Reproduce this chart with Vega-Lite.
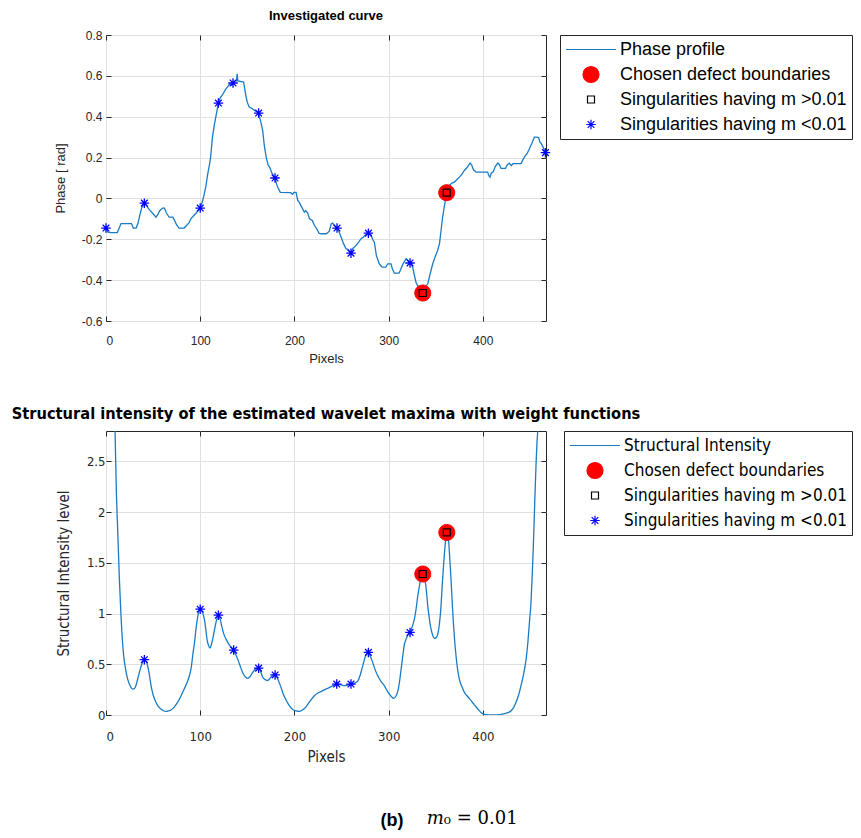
{
  "$schema": "https://vega.github.io/schema/vega-lite/v6.json",
  "background": "white",
  "padding": {"left": 11, "top": 9, "right": 0, "bottom": 5},
  "spacing": 39,
  "datasets": {
    "phase": [
      {"pixel": 0, "phase": -0.145}, {"pixel": 2, "phase": -0.165}, {"pixel": 5, "phase": -0.167}, {"pixel": 12, "phase": -0.167},
      {"pixel": 14, "phase": -0.145}, {"pixel": 16, "phase": -0.123}, {"pixel": 27, "phase": -0.123}, {"pixel": 29, "phase": -0.145},
      {"pixel": 32, "phase": -0.145}, {"pixel": 34, "phase": -0.12}, {"pixel": 36, "phase": -0.08}, {"pixel": 38, "phase": -0.045},
      {"pixel": 40.7, "phase": -0.023}, {"pixel": 43, "phase": -0.035}, {"pixel": 46, "phase": -0.055}, {"pixel": 50, "phase": -0.075},
      {"pixel": 53, "phase": -0.092}, {"pixel": 55, "phase": -0.08}, {"pixel": 57, "phase": -0.06}, {"pixel": 60, "phase": -0.047},
      {"pixel": 62, "phase": -0.047}, {"pixel": 64, "phase": -0.07}, {"pixel": 67, "phase": -0.092}, {"pixel": 71, "phase": -0.092},
      {"pixel": 73, "phase": -0.11}, {"pixel": 75, "phase": -0.13}, {"pixel": 77.5, "phase": -0.145}, {"pixel": 83, "phase": -0.145},
      {"pixel": 85, "phase": -0.135}, {"pixel": 88, "phase": -0.12}, {"pixel": 90, "phase": -0.1}, {"pixel": 93, "phase": -0.085},
      {"pixel": 96, "phase": -0.07}, {"pixel": 100, "phase": -0.047}, {"pixel": 102, "phase": -0.02}, {"pixel": 104, "phase": 0.015},
      {"pixel": 106, "phase": 0.06}, {"pixel": 108, "phase": 0.12}, {"pixel": 110, "phase": 0.17}, {"pixel": 111, "phase": 0.2},
      {"pixel": 113, "phase": 0.3}, {"pixel": 115, "phase": 0.36}, {"pixel": 117, "phase": 0.41}, {"pixel": 119.3, "phase": 0.467},
      {"pixel": 121, "phase": 0.49}, {"pixel": 124, "phase": 0.51}, {"pixel": 127, "phase": 0.535}, {"pixel": 129, "phase": 0.545},
      {"pixel": 131, "phase": 0.56}, {"pixel": 133, "phase": 0.555}, {"pixel": 134.8, "phase": 0.565}, {"pixel": 137, "phase": 0.575},
      {"pixel": 138.5, "phase": 0.575}, {"pixel": 139.2, "phase": 0.61}, {"pixel": 140, "phase": 0.575}, {"pixel": 146, "phase": 0.57},
      {"pixel": 148.6, "phase": 0.5}, {"pixel": 150, "phase": 0.47}, {"pixel": 152, "phase": 0.447}, {"pixel": 155, "phase": 0.44},
      {"pixel": 158, "phase": 0.43}, {"pixel": 160, "phase": 0.425}, {"pixel": 162, "phase": 0.418}, {"pixel": 164, "phase": 0.38},
      {"pixel": 166.3, "phase": 0.333}, {"pixel": 168, "phase": 0.26}, {"pixel": 170, "phase": 0.202}, {"pixel": 172, "phase": 0.165},
      {"pixel": 174, "phase": 0.15}, {"pixel": 176, "phase": 0.125}, {"pixel": 179.4, "phase": 0.1}, {"pixel": 181, "phase": 0.07},
      {"pixel": 182.3, "phase": 0.055}, {"pixel": 185, "phase": 0.03}, {"pixel": 196, "phase": 0.028}, {"pixel": 198, "phase": 0.02},
      {"pixel": 199.5, "phase": 0.03}, {"pixel": 201.7, "phase": 0.03}, {"pixel": 203.5, "phase": -0.01}, {"pixel": 205, "phase": -0.018},
      {"pixel": 208, "phase": -0.045}, {"pixel": 210.5, "phase": -0.067}, {"pixel": 212, "phase": -0.06}, {"pixel": 214, "phase": -0.07},
      {"pixel": 216, "phase": -0.1}, {"pixel": 219, "phase": -0.108}, {"pixel": 221, "phase": -0.13}, {"pixel": 224.7, "phase": -0.157},
      {"pixel": 226, "phase": -0.17}, {"pixel": 228.2, "phase": -0.173}, {"pixel": 234, "phase": -0.173}, {"pixel": 237, "phase": -0.16},
      {"pixel": 239, "phase": -0.125}, {"pixel": 240.6, "phase": -0.121}, {"pixel": 242, "phase": -0.13}, {"pixel": 245.2, "phase": -0.145},
      {"pixel": 247, "phase": -0.16}, {"pixel": 249.5, "phase": -0.189}, {"pixel": 252, "phase": -0.22}, {"pixel": 254.8, "phase": -0.246},
      {"pixel": 257, "phase": -0.25}, {"pixel": 260, "phase": -0.268}, {"pixel": 262, "phase": -0.245}, {"pixel": 265.4, "phase": -0.23},
      {"pixel": 268, "phase": -0.215}, {"pixel": 270.7, "phase": -0.197}, {"pixel": 273, "phase": -0.19}, {"pixel": 276, "phase": -0.175},
      {"pixel": 278.5, "phase": -0.17}, {"pixel": 281, "phase": -0.175}, {"pixel": 283, "phase": -0.2}, {"pixel": 284.8, "phase": -0.214},
      {"pixel": 287, "phase": -0.28}, {"pixel": 290, "phase": -0.32}, {"pixel": 293, "phase": -0.336}, {"pixel": 297, "phase": -0.336},
      {"pixel": 299, "phase": -0.32}, {"pixel": 302.5, "phase": -0.32}, {"pixel": 304, "phase": -0.345}, {"pixel": 306, "phase": -0.366},
      {"pixel": 311, "phase": -0.366}, {"pixel": 313, "phase": -0.345}, {"pixel": 315, "phase": -0.323}, {"pixel": 318.5, "phase": -0.295},
      {"pixel": 320, "phase": -0.3}, {"pixel": 322.7, "phase": -0.316}, {"pixel": 325.5, "phase": -0.336}, {"pixel": 327, "phase": -0.37},
      {"pixel": 329, "phase": -0.41}, {"pixel": 331, "phase": -0.43}, {"pixel": 334, "phase": -0.43}, {"pixel": 336.2, "phase": -0.463},
      {"pixel": 338, "phase": -0.44}, {"pixel": 341.5, "phase": -0.418}, {"pixel": 344, "phase": -0.37}, {"pixel": 346.8, "phase": -0.32},
      {"pixel": 349, "phase": -0.29}, {"pixel": 352, "phase": -0.255}, {"pixel": 354, "phase": -0.22}, {"pixel": 355.6, "phase": -0.157},
      {"pixel": 357, "phase": -0.1}, {"pixel": 359, "phase": -0.042}, {"pixel": 360.5, "phase": 0}, {"pixel": 361.6, "phase": 0.028},
      {"pixel": 363, "phase": 0.06}, {"pixel": 364.5, "phase": 0.064}, {"pixel": 367, "phase": 0.075}, {"pixel": 369.8, "phase": 0.08},
      {"pixel": 372, "phase": 0.09}, {"pixel": 375, "phase": 0.104}, {"pixel": 378, "phase": 0.12}, {"pixel": 380.4, "phase": 0.137},
      {"pixel": 383, "phase": 0.15}, {"pixel": 386.4, "phase": 0.173}, {"pixel": 388, "phase": 0.165}, {"pixel": 390, "phase": 0.14},
      {"pixel": 392.8, "phase": 0.129}, {"pixel": 405, "phase": 0.129}, {"pixel": 406.5, "phase": 0.11}, {"pixel": 407.6, "phase": 0.104},
      {"pixel": 409, "phase": 0.125}, {"pixel": 411, "phase": 0.13}, {"pixel": 413, "phase": 0.155}, {"pixel": 415.8, "phase": 0.173},
      {"pixel": 417.5, "phase": 0.165}, {"pixel": 419.3, "phase": 0.147}, {"pixel": 424, "phase": 0.147}, {"pixel": 426, "phase": 0.165},
      {"pixel": 428, "phase": 0.173}, {"pixel": 430, "phase": 0.16}, {"pixel": 432, "phase": 0.17}, {"pixel": 440.5, "phase": 0.17},
      {"pixel": 442, "phase": 0.185}, {"pixel": 444, "phase": 0.202}, {"pixel": 447, "phase": 0.22}, {"pixel": 449.4, "phase": 0.243},
      {"pixel": 452, "phase": 0.27}, {"pixel": 454.7, "phase": 0.3}, {"pixel": 457, "phase": 0.3}, {"pixel": 459.3, "phase": 0.297},
      {"pixel": 460.5, "phase": 0.275}, {"pixel": 461.8, "phase": 0.27}, {"pixel": 464, "phase": 0.25}, {"pixel": 466.4, "phase": 0.224}
    ],
    "phaseMarks": [
      {"pixel": 0, "phase": -0.145, "kind": "weak"},
      {"pixel": 40.7, "phase": -0.023, "kind": "weak"},
      {"pixel": 100, "phase": -0.047, "kind": "weak"},
      {"pixel": 119.3, "phase": 0.467, "kind": "weak"},
      {"pixel": 134.8, "phase": 0.565, "kind": "weak"},
      {"pixel": 162, "phase": 0.418, "kind": "weak"},
      {"pixel": 179.4, "phase": 0.1, "kind": "weak"},
      {"pixel": 245.2, "phase": -0.145, "kind": "weak"},
      {"pixel": 260, "phase": -0.268, "kind": "weak"},
      {"pixel": 278.5, "phase": -0.17, "kind": "weak"},
      {"pixel": 322.7, "phase": -0.316, "kind": "weak"},
      {"pixel": 466.4, "phase": 0.224, "kind": "weak"},
      {"pixel": 336.2, "phase": -0.463, "kind": "strong"},
      {"pixel": 361.6, "phase": 0.028, "kind": "strong"}
    ],
    "intensity": [
      {"pixel": 8.5, "level": 3.2}, {"pixel": 9.6, "level": 2.81}, {"pixel": 11, "level": 2.2}, {"pixel": 12.4, "level": 1.83},
      {"pixel": 14.2, "level": 1.34}, {"pixel": 15.9, "level": 0.98}, {"pixel": 17.3, "level": 0.75}, {"pixel": 18.8, "level": 0.58},
      {"pixel": 21, "level": 0.44}, {"pixel": 23, "level": 0.354}, {"pixel": 25.5, "level": 0.29}, {"pixel": 28.3, "level": 0.256},
      {"pixel": 30, "level": 0.26}, {"pixel": 31.8, "level": 0.29}, {"pixel": 33.5, "level": 0.35}, {"pixel": 35.4, "level": 0.42},
      {"pixel": 38, "level": 0.5}, {"pixel": 40.7, "level": 0.545}, {"pixel": 42.5, "level": 0.53}, {"pixel": 44.2, "level": 0.485},
      {"pixel": 46, "level": 0.4}, {"pixel": 47.8, "level": 0.29}, {"pixel": 50, "level": 0.2}, {"pixel": 53, "level": 0.125},
      {"pixel": 55.5, "level": 0.085}, {"pixel": 58.4, "level": 0.059}, {"pixel": 61, "level": 0.042}, {"pixel": 63.7, "level": 0.036},
      {"pixel": 66, "level": 0.04}, {"pixel": 69, "level": 0.049}, {"pixel": 72.5, "level": 0.08}, {"pixel": 76, "level": 0.125},
      {"pixel": 79.5, "level": 0.185}, {"pixel": 83, "level": 0.256}, {"pixel": 86, "level": 0.32}, {"pixel": 88.5, "level": 0.387},
      {"pixel": 90.5, "level": 0.47}, {"pixel": 92, "level": 0.584}, {"pixel": 94, "level": 0.72}, {"pixel": 95.5, "level": 0.846},
      {"pixel": 98, "level": 1.0}, {"pixel": 100, "level": 1.043}, {"pixel": 102, "level": 1.02}, {"pixel": 104.4, "level": 0.945},
      {"pixel": 106, "level": 0.84}, {"pixel": 107.2, "level": 0.748}, {"pixel": 109, "level": 0.68}, {"pixel": 110.4, "level": 0.66},
      {"pixel": 112, "level": 0.7}, {"pixel": 113.9, "level": 0.78}, {"pixel": 116, "level": 0.88}, {"pixel": 118, "level": 0.96},
      {"pixel": 119.3, "level": 0.984}, {"pixel": 121, "level": 0.95}, {"pixel": 122.8, "level": 0.879}, {"pixel": 125, "level": 0.8},
      {"pixel": 127.4, "level": 0.748}, {"pixel": 131, "level": 0.69}, {"pixel": 135.5, "level": 0.64}, {"pixel": 137.5, "level": 0.6},
      {"pixel": 139.8, "level": 0.551}, {"pixel": 142.5, "level": 0.48}, {"pixel": 145, "level": 0.42}, {"pixel": 147.5, "level": 0.38},
      {"pixel": 150.4, "level": 0.361}, {"pixel": 153, "level": 0.38}, {"pixel": 155.7, "level": 0.42}, {"pixel": 159, "level": 0.455},
      {"pixel": 162, "level": 0.462}, {"pixel": 164, "level": 0.43}, {"pixel": 166, "level": 0.38}, {"pixel": 168, "level": 0.354},
      {"pixel": 171.6, "level": 0.34}, {"pixel": 174, "level": 0.36}, {"pixel": 177, "level": 0.39}, {"pixel": 179.5, "level": 0.395},
      {"pixel": 182, "level": 0.36}, {"pixel": 185.8, "level": 0.27}, {"pixel": 188, "level": 0.21}, {"pixel": 191, "level": 0.15},
      {"pixel": 194, "level": 0.1}, {"pixel": 198.2, "level": 0.055}, {"pixel": 202, "level": 0.04}, {"pixel": 205.2, "level": 0.035},
      {"pixel": 208.5, "level": 0.05}, {"pixel": 212.3, "level": 0.08}, {"pixel": 216, "level": 0.13}, {"pixel": 221.2, "level": 0.19},
      {"pixel": 224.5, "level": 0.215}, {"pixel": 228.2, "level": 0.23}, {"pixel": 232, "level": 0.25}, {"pixel": 235.3, "level": 0.263},
      {"pixel": 240, "level": 0.285}, {"pixel": 244.9, "level": 0.305}, {"pixel": 249, "level": 0.3}, {"pixel": 253, "level": 0.29},
      {"pixel": 256.5, "level": 0.295}, {"pixel": 260, "level": 0.305}, {"pixel": 264, "level": 0.315}, {"pixel": 267.2, "level": 0.335},
      {"pixel": 270, "level": 0.4}, {"pixel": 272.5, "level": 0.485}, {"pixel": 275, "level": 0.57}, {"pixel": 278.5, "level": 0.617},
      {"pixel": 281, "level": 0.57}, {"pixel": 283, "level": 0.519}, {"pixel": 285.5, "level": 0.45}, {"pixel": 288.4, "level": 0.387},
      {"pixel": 292, "level": 0.33}, {"pixel": 295.4, "level": 0.29}, {"pixel": 298, "level": 0.245}, {"pixel": 300.7, "level": 0.207},
      {"pixel": 303, "level": 0.18}, {"pixel": 305.4, "level": 0.164}, {"pixel": 307.9, "level": 0.19}, {"pixel": 309.6, "level": 0.23},
      {"pixel": 311.4, "level": 0.32}, {"pixel": 313.2, "level": 0.45}, {"pixel": 315, "level": 0.584}, {"pixel": 316.8, "level": 0.7},
      {"pixel": 318.5, "level": 0.748}, {"pixel": 320.5, "level": 0.79}, {"pixel": 322.7, "level": 0.814}, {"pixel": 325, "level": 0.87},
      {"pixel": 327.3, "level": 0.945}, {"pixel": 329.2, "level": 1.05}, {"pixel": 330.9, "level": 1.174}, {"pixel": 333.3, "level": 1.306},
      {"pixel": 335, "level": 1.38}, {"pixel": 336.2, "level": 1.39}, {"pixel": 337.5, "level": 1.37}, {"pixel": 339, "level": 1.306},
      {"pixel": 340.3, "level": 1.2}, {"pixel": 341.5, "level": 1.076}, {"pixel": 343.2, "level": 0.95}, {"pixel": 345, "level": 0.846},
      {"pixel": 346.8, "level": 0.785}, {"pixel": 348.5, "level": 0.755}, {"pixel": 350.3, "level": 0.76}, {"pixel": 352.1, "level": 0.797},
      {"pixel": 353.9, "level": 0.9}, {"pixel": 355.6, "level": 1.076}, {"pixel": 357, "level": 1.3}, {"pixel": 358.5, "level": 1.503},
      {"pixel": 360.2, "level": 1.7}, {"pixel": 361.7, "level": 1.8}, {"pixel": 363, "level": 1.76}, {"pixel": 363.8, "level": 1.7},
      {"pixel": 365, "level": 1.52}, {"pixel": 366.2, "level": 1.339}, {"pixel": 367.5, "level": 1.1}, {"pixel": 368.7, "level": 0.912},
      {"pixel": 370, "level": 0.74}, {"pixel": 371.5, "level": 0.584}, {"pixel": 373.2, "level": 0.45}, {"pixel": 375, "level": 0.354},
      {"pixel": 377.7, "level": 0.28}, {"pixel": 380.4, "level": 0.223}, {"pixel": 384, "level": 0.18}, {"pixel": 387.5, "level": 0.141},
      {"pixel": 391, "level": 0.1}, {"pixel": 394.6, "level": 0.059}, {"pixel": 398, "level": 0.025}, {"pixel": 401.6, "level": 0.005},
      {"pixel": 406, "level": 0}, {"pixel": 412.2, "level": 0}, {"pixel": 417, "level": 0.003}, {"pixel": 421, "level": 0.01},
      {"pixel": 425.5, "level": 0.02}, {"pixel": 430, "level": 0.042}, {"pixel": 433, "level": 0.08}, {"pixel": 435.2, "level": 0.125},
      {"pixel": 438, "level": 0.2}, {"pixel": 440.5, "level": 0.29}, {"pixel": 443.2, "level": 0.4}, {"pixel": 445.9, "level": 0.551},
      {"pixel": 447.8, "level": 0.72}, {"pixel": 449.4, "level": 0.912}, {"pixel": 451, "level": 1.1}, {"pixel": 452.2, "level": 1.339},
      {"pixel": 453.5, "level": 1.65}, {"pixel": 454.7, "level": 1.995}, {"pixel": 455.6, "level": 2.25}, {"pixel": 456.5, "level": 2.487},
      {"pixel": 457.5, "level": 2.7}, {"pixel": 458.3, "level": 2.815}, {"pixel": 459.5, "level": 3.2}
    ],
    "intensityMarks": [
      {"pixel": 40.7, "level": 0.545, "kind": "weak"},
      {"pixel": 100, "level": 1.043, "kind": "weak"},
      {"pixel": 119.3, "level": 0.984, "kind": "weak"},
      {"pixel": 135.5, "level": 0.64, "kind": "weak"},
      {"pixel": 162, "level": 0.462, "kind": "weak"},
      {"pixel": 179.5, "level": 0.395, "kind": "weak"},
      {"pixel": 244.9, "level": 0.305, "kind": "weak"},
      {"pixel": 260, "level": 0.305, "kind": "weak"},
      {"pixel": 278.5, "level": 0.617, "kind": "weak"},
      {"pixel": 322.7, "level": 0.814, "kind": "weak"},
      {"pixel": 336.2, "level": 1.39, "kind": "strong"},
      {"pixel": 361.7, "level": 1.8, "kind": "strong"}
    ]
  },
  "config": {
    "view": {"stroke": "#262626", "strokeWidth": 1},
    "axis": {
      "domain": false,
      "grid": false,
      "gridColor": "#e0e0e0",
      "gridWidth": 1,
      "tickColor": "#262626",
      "tickSize": -5,
      "labelFont": "Liberation Sans",
      "labelFontSize": 12,
      "labelColor": "#262626",
      "titleFont": "Liberation Sans",
      "titleFontSize": 13,
      "titleFontWeight": "normal",
      "titleColor": "#262626"
    },
    "legend": {
      "orient": "none",
      "padding": 5,
      "strokeColor": "#262626",
      "fillColor": "white",
      "symbolSize": 2500,
      "symbolStrokeWidth": 1.2,
      "symbolOpacity": 1,
      "clipHeight": 19,
      "rowPadding": 6,
      "labelOffset": 3,
      "labelLimit": 0,
      "labelColor": "black"
    },
    "title": {"color": "black", "fontWeight": "bold"}
  },
  "title": {
    "text": "(b)\u00a0\u00a0\u00a0\u00a0\u00a0\u00a0\u00a0\u00a0\u00a0\u00a0\u00a0\u00a0\u00a0\u00a0\u00a0\u00a0\u200b",
    "subtitle": "\u200b\u00a0\u00a0\u00a0\u00a0\u00a0\u00a0\u00a0\u00a0\u00a0\u00a0\u00a0\u00a0\u00a0\u00a0𝑚₀ = 0.01",
    "orient": "bottom",
    "anchor": "middle",
    "font": "Liberation Sans",
    "fontSize": 18,
    "fontWeight": "bold",
    "subtitleFont": "DejaVu Serif",
    "subtitleFontSize": 18,
    "subtitleColor": "black",
    "subtitlePadding": -20,
    "offset": 47
  },
  "resolve": {"scale": {"stroke": "independent", "fill": "independent", "shape": "independent"}},
  "vconcat": [
    {
      "width": 440,
      "height": 286,
      "title": {"text": "Investigated curve", "font": "Liberation Sans", "fontSize": 13, "offset": 6},
      "layer": [
        {
          "data": {"name": "phase"},
          "mark": {"type": "line", "strokeWidth": 1.3, "clip": true},
          "encoding": {
            "x": {"field": "pixel", "type": "quantitative",
                  "scale": {"domain": [0, 467], "nice": false, "zero": false},
                  "axis": {"orient": "bottom", "values": [0, 100, 200, 300, 400], "title": "Pixels", "grid": true, "labelPadding": 19, "titlePadding": 6}},
            "y": {"field": "phase", "type": "quantitative",
                  "scale": {"domain": [-0.6, 0.8], "nice": false, "zero": false},
                  "axis": {"orient": "left", "values": [-0.6, -0.4, -0.2, 0, 0.2, 0.4, 0.6, 0.8], "title": "Phase [ rad]", "grid": true, "labelPadding": 9, "titlePadding": 14,
                           "labelExpr": "replace(format(datum.value, '.1~f'), '−', '-')"}},
            "stroke": {
              "datum": "Phase profile",
              "type": "nominal",
              "scale": {
                "domain": ["Phase profile", "Chosen defect boundaries", "Singularities having m >0.01", "Singularities having m <0.01"],
                "range": ["#1a7cc4", "#FF0000", "#000000", "#0000FF"]
              },
              "legend": {"title": null, "legendX": 454, "legendY": 0, "labelFont": "Liberation Sans", "labelFontSize": 18}
            }
          }
        },
        {
          "data": {"name": "phaseMarks"},
          "transform": [{"filter": "datum.kind === 'strong'"}],
          "mark": {"type": "point", "size": 2500, "strokeWidth": 1, "opacity": 1},
          "encoding": {
            "x": {"field": "pixel", "type": "quantitative", "axis": null},
            "y": {"field": "phase", "type": "quantitative", "axis": null},
            "stroke": {"datum": "Chosen defect boundaries", "type": "nominal"},
            "fill": {"datum": "Chosen defect boundaries", "type": "nominal",
                     "scale": {"domain": ["Phase profile", "Chosen defect boundaries", "Singularities having m >0.01", "Singularities having m <0.01"],
                               "range": ["transparent", "#FF0000", "transparent", "transparent"]},
                     "legend": {"title": null}},
            "shape": {"datum": "Chosen defect boundaries", "type": "nominal",
                      "scale": {"domain": ["Phase profile", "Chosen defect boundaries", "Singularities having m >0.01", "Singularities having m <0.01"],
                                "range": ["stroke",
                                          "M-0.32,0A0.32,0.32,0,1,1,0.32,0A0.32,0.32,0,1,1,-0.32,0Z",
                                          "M-0.14,-0.14H0.14V0.14H-0.14Z",
                                          "M-0.19,0H0.19M0,-0.19V0.19M-0.134,-0.134L0.134,0.134M-0.134,0.134L0.134,-0.134"]},
                      "legend": {"title": null}}
          }
        },
        {
          "data": {"name": "phaseMarks"},
          "transform": [{"filter": "datum.kind === 'strong'"}],
          "mark": {"type": "point", "size": 2500, "strokeWidth": 1.2, "opacity": 1},
          "encoding": {
            "x": {"field": "pixel", "type": "quantitative", "axis": null},
            "y": {"field": "phase", "type": "quantitative", "axis": null},
            "stroke": {"datum": "Singularities having m >0.01", "type": "nominal"},
            "fill": {"datum": "Singularities having m >0.01", "type": "nominal"},
            "shape": {"datum": "Singularities having m >0.01", "type": "nominal"}
          }
        },
        {
          "data": {"name": "phaseMarks"},
          "transform": [{"filter": "datum.kind === 'weak'"}],
          "mark": {"type": "point", "size": 2500, "strokeWidth": 1.3, "opacity": 1},
          "encoding": {
            "x": {"field": "pixel", "type": "quantitative",
                  "axis": {"orient": "top", "values": [0, 100, 200, 300, 400], "labels": false, "title": null}},
            "y": {"field": "phase", "type": "quantitative",
                  "axis": {"orient": "right", "values": [-0.6, -0.4, -0.2, 0, 0.2, 0.4, 0.6, 0.8], "labels": false, "title": null}},
            "stroke": {"datum": "Singularities having m <0.01", "type": "nominal"},
            "fill": {"datum": "Singularities having m <0.01", "type": "nominal"},
            "shape": {"datum": "Singularities having m <0.01", "type": "nominal"}
          }
        }
      ],
      "resolve": {"axis": {"x": "independent", "y": "independent"}}
    },
    {
      "width": 440,
      "height": 284,
      "title": {"text": "Structural intensity of the estimated wavelet maxima with weight functions", "font": "DejaVu Sans Condensed, Liberation Sans Narrow, Liberation Sans", "fontSize": 16.3, "offset": 8},
      "layer": [
        {
          "data": {"name": "intensity"},
          "mark": {"type": "line", "strokeWidth": 1.3, "clip": true, "interpolate": "monotone"},
          "encoding": {
            "x": {"field": "pixel", "type": "quantitative",
                  "scale": {"domain": [0, 467], "nice": false, "zero": false},
                  "axis": {"orient": "bottom", "values": [0, 100, 200, 300, 400], "title": "Pixels", "grid": true, "labelPadding": 20, "titlePadding": 6,
                           "labelFont": "DejaVu Sans Condensed, Liberation Sans Narrow, Liberation Sans", "labelFontSize": 13, "titleFont": "DejaVu Sans Condensed, Liberation Sans Narrow, Liberation Sans", "titleFontSize": 15}},
            "y": {"field": "level", "type": "quantitative",
                  "scale": {"domain": [0, 2.8], "nice": false, "zero": false},
                  "axis": {"orient": "left", "values": [0, 0.5, 1, 1.5, 2, 2.5], "title": "Structural Intensity level", "grid": true, "labelPadding": 6, "titlePadding": 15,
                           "format": "~g", "labelFont": "DejaVu Sans Condensed, Liberation Sans Narrow, Liberation Sans", "labelFontSize": 13, "titleFont": "DejaVu Sans Condensed, Liberation Sans Narrow, Liberation Sans", "titleFontSize": 15}},
            "stroke": {
              "datum": "Structural Intensity",
              "type": "nominal",
              "scale": {
                "domain": ["Structural Intensity", "Chosen defect boundaries", "Singularities having m >0.01", "Singularities having m <0.01"],
                "range": ["#1a7cc4", "#FF0000", "#000000", "#0000FF"]
              },
              "legend": {"title": null, "legendX": 458, "legendY": 0, "labelFont": "DejaVu Sans Condensed, Liberation Sans Narrow, Liberation Sans", "labelFontSize": 17}
            }
          }
        },
        {
          "data": {"name": "intensityMarks"},
          "transform": [{"filter": "datum.kind === 'strong'"}],
          "mark": {"type": "point", "size": 2500, "strokeWidth": 1, "opacity": 1},
          "encoding": {
            "x": {"field": "pixel", "type": "quantitative", "axis": null},
            "y": {"field": "level", "type": "quantitative", "axis": null},
            "stroke": {"datum": "Chosen defect boundaries", "type": "nominal"},
            "fill": {"datum": "Chosen defect boundaries", "type": "nominal",
                     "scale": {"domain": ["Structural Intensity", "Chosen defect boundaries", "Singularities having m >0.01", "Singularities having m <0.01"],
                               "range": ["transparent", "#FF0000", "transparent", "transparent"]},
                     "legend": {"title": null}},
            "shape": {"datum": "Chosen defect boundaries", "type": "nominal",
                      "scale": {"domain": ["Structural Intensity", "Chosen defect boundaries", "Singularities having m >0.01", "Singularities having m <0.01"],
                                "range": ["stroke",
                                          "M-0.32,0A0.32,0.32,0,1,1,0.32,0A0.32,0.32,0,1,1,-0.32,0Z",
                                          "M-0.14,-0.14H0.14V0.14H-0.14Z",
                                          "M-0.19,0H0.19M0,-0.19V0.19M-0.134,-0.134L0.134,0.134M-0.134,0.134L0.134,-0.134"]},
                      "legend": {"title": null}}
          }
        },
        {
          "data": {"name": "intensityMarks"},
          "transform": [{"filter": "datum.kind === 'strong'"}],
          "mark": {"type": "point", "size": 2500, "strokeWidth": 1.2, "opacity": 1},
          "encoding": {
            "x": {"field": "pixel", "type": "quantitative", "axis": null},
            "y": {"field": "level", "type": "quantitative", "axis": null},
            "stroke": {"datum": "Singularities having m >0.01", "type": "nominal"},
            "fill": {"datum": "Singularities having m >0.01", "type": "nominal"},
            "shape": {"datum": "Singularities having m >0.01", "type": "nominal"}
          }
        },
        {
          "data": {"name": "intensityMarks"},
          "transform": [{"filter": "datum.kind === 'weak'"}],
          "mark": {"type": "point", "size": 2500, "strokeWidth": 1.3, "opacity": 1},
          "encoding": {
            "x": {"field": "pixel", "type": "quantitative",
                  "axis": {"orient": "top", "values": [0, 100, 200, 300, 400], "labels": false, "title": null}},
            "y": {"field": "level", "type": "quantitative",
                  "axis": {"orient": "right", "values": [0, 0.5, 1, 1.5, 2, 2.5], "labels": false, "title": null}},
            "stroke": {"datum": "Singularities having m <0.01", "type": "nominal"},
            "fill": {"datum": "Singularities having m <0.01", "type": "nominal"},
            "shape": {"datum": "Singularities having m <0.01", "type": "nominal"}
          }
        }
      ],
      "resolve": {"axis": {"x": "independent", "y": "independent"}}
    }
  ]
}
